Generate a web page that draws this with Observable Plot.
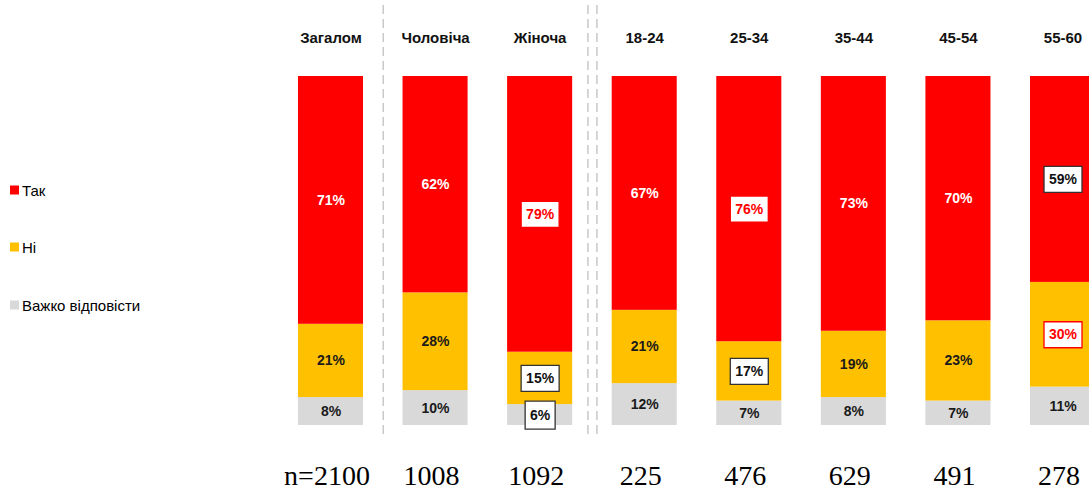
<!DOCTYPE html>
<html><head><meta charset="utf-8">
<script src="https://cdn.jsdelivr.net/npm/d3@7"></script>
<script src="https://cdn.jsdelivr.net/npm/@observablehq/plot@0.6"></script>
<style>
html,body{margin:0;padding:0;background:#fff;overflow:hidden;font-family:"Liberation Sans",Arial,sans-serif;}
#wrap{position:relative;width:1089px;height:490px;}
#legend{position:absolute;left:10px;top:0;}
.li{position:absolute;left:0;white-space:nowrap;font-size:15px;color:#000;display:flex;align-items:center;transform:translateY(-50%);}
.sw{width:9px;height:9px;margin-right:3px;}
</style></head><body><div id="wrap"><div id="legend"></div></div>
<script>
const groups = ["Загалом","Чоловіча","Жіноча","18-24","25-34","35-44","45-54","55-60"];
const sampleSizes = ["n=2100","1008","1092","225","476","629","491","278"];
const answers = ["Так","Ні","Важко відповісти"];
const tak  = [71,62,79,67,76,73,70,59];
const ni   = [21,28,15,21,17,19,23,30];
const hard = [8,10,6,12,7,8,7,11];
const highlights = [
  {group:"Жіноча", answer:"Так", kind:"higher"},
  {group:"Жіноча", answer:"Ні", kind:"lower"},
  {group:"Жіноча", answer:"Важко відповісти", kind:"lower"},
  {group:"25-34", answer:"Так", kind:"higher"},
  {group:"25-34", answer:"Ні", kind:"lower"},
  {group:"55-60", answer:"Так", kind:"lower"},
  {group:"55-60", answer:"Ні", kind:"higher"}
];
const separatorsAfter = [{group:"Загалом", lines:1},{group:"Жіноча", lines:2}];

const colors = ["#ff0000","#ffc000","#d9d9d9"];
const RED = "#ff0000";

// build stacked rows: bottom to top = Важко відповісти, Ні, Так
const rows = [];
groups.forEach((g,i) => {
  const seq = [["Важко відповісти", hard[i]],["Ні", ni[i]],["Так", tak[i]]];
  let acc = 0;
  seq.forEach(([a,v]) => {
    const h = highlights.find(h => h.group===g && h.answer===a);
    rows.push({group:g, answer:a, value:v, y1:acc, y2:acc+v, mid:acc+v/2,
               label:v+"%", kind: h ? h.kind : null});
    acc += v;
  });
});

const xRange = [278.2, 1114.8];
const step = (xRange[1]-xRange[0]) / groups.length;

function rectSymbol(w,h){ return {draw(ctx){ ctx.rect(-w/2,-h/2,w,h); }}; }

const boxed = rows.filter(d => d.kind);
const sepMarks = [];
separatorsAfter.forEach(s => {
  const offs = s.lines===1 ? [0] : [-4.5, 4.5];
  offs.forEach(o => sepMarks.push(Plot.ruleX([s.group], {x:d=>d, dx: step/2 + o,
    stroke:"#c8c8c8", strokeWidth:1.5, strokeDasharray:"9,5", insetTop:5, insetBottom:55})));
});

const chart = Plot.plot({
  width:1089, height:490,
  marginTop:0, marginBottom:0, marginLeft:0, marginRight:0,
  x:{type:"band", domain:groups, range:xRange, paddingInner:0.378, paddingOuter:0.189, align:0.5, round:false, axis:null},
  y:{domain:[0,100], range:[425,76], axis:null},
  color:{domain:answers, range:colors},
  style:{fontFamily:"'Liberation Sans', Arial, sans-serif", background:"#fff"},
  marks:[
    ...sepMarks,
    Plot.rectY(rows, {x:"group", y1:"y1", y2:"y2", fill:"answer"}),
    // label boxes
    Plot.dot(boxed.filter(d=>d.label.length>=3), {x:"group", y:"mid", symbol:rectSymbol(38,26),
      fill:"#fff", stroke:d=>d.kind==="higher"?RED:"#333", strokeWidth:1.3}),
    Plot.dot(boxed.filter(d=>d.label.length<3), {x:"group", y:"mid", symbol:rectSymbol(30,28),
      fill:"#fff", stroke:"#333", strokeWidth:1.3}),
    // labels
    Plot.text(rows.filter(d=>!d.kind && d.answer==="Так"), {x:"group", y:"mid", text:"label", fill:"#fff", fontWeight:"bold", fontSize:14}),
    Plot.text(rows.filter(d=>!d.kind && d.answer!=="Так"), {x:"group", y:"mid", text:"label", fill:"#1a1a1a", fontWeight:"bold", fontSize:14}),
    Plot.text(boxed.filter(d=>d.kind==="lower"), {x:"group", y:"mid", text:"label", fill:"#111", fontWeight:"bold", fontSize:14}),
    Plot.text(boxed.filter(d=>d.kind==="higher"), {x:"group", y:"mid", text:"label", fill:RED, fontWeight:"bold", fontSize:14}),
    // headers
    Plot.text(groups, {x:d=>d, text:d=>d, frameAnchor:"top", lineAnchor:"middle", dy:38, fontWeight:"bold", fontSize:15, fill:"#111"}),
    // sample sizes
    Plot.text(groups, {x:d=>d, text:(d,i)=>sampleSizes[i], frameAnchor:"bottom", lineAnchor:"middle", dy:-14, dx:-4,
      fontFamily:"'Liberation Serif','Times New Roman',serif", fontSize:28, fill:"#000"})
  ]
});
document.getElementById("wrap").appendChild(chart);

const legend = document.getElementById("legend");
const legendY = [190, 247, 305];
answers.forEach((a,i) => {
  const el = document.createElement("div");
  el.className = "li";
  el.style.top = legendY[i] + "px";
  el.innerHTML = `<span class="sw" style="background:${colors[i]}"></span><span>${a}</span>`;
  legend.appendChild(el);
});
</script></body></html>
